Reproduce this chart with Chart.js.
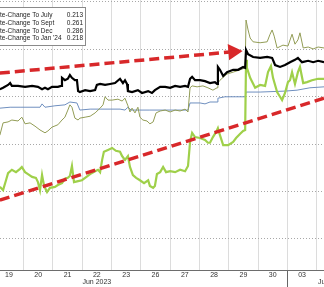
<!DOCTYPE html>
<html>
<head>
<meta charset="utf-8">
<script src="https://cdn.jsdelivr.net/npm/chart.js@4.4.1/dist/chart.umd.min.js"></script>
<style>
  html, body { margin: 0; padding: 0; background: #fff; }
</style>
</head>
<body>
<canvas id="rateChart" width="324" height="287"></canvas>
<script>
// trading days on the axis (Jul 04 holiday skipped)
const dayLabels = ["19", "20", "21", "22", "23", "26", "27", "28", "29", "30", "03", "05"];
const monthLabels = ["", "", "", "Jun 2023", "", "", "", "", "", "", "", "Jul 2023"];

const legendNames = ["Rate-Change To July", "Rate-Change To Sept", "Rate-Change To Dec", "Rate-Change To Jan '24"];
const legendValues = ["0.213", "0.261", "0.286", "0.218"];

// [trading day index (0 = Jun 19), implied change]
const julyPts = [
  [0.19, 27.6], [0.54, 27.8], [0.88, 27.8], [1.22, 27.8], [1.56, 27.8], [1.63, 28.5], [1.73, 27.8],
  [2.07, 28.1], [2.41, 28.3], [2.58, 28.9], [2.82, 28.7], [2.92, 27.2], [3.27, 27.4], [3.61, 27.4],
  [3.95, 27.4], [4.29, 27.4], [4.46, 27.2], [4.56, 27.8], [4.67, 27.2], [5.31, 27.2], [6.00, 27.2],
  [6.61, 27.2], [6.68, 28.7], [7.02, 28.7], [7.19, 28.5], [7.36, 28.9], [7.60, 28.9], [7.63, 29.7],
  [7.87, 30.0], [8.22, 30.0], [8.56, 30.0], [8.59, 31.0], [9.07, 31.0], [9.92, 31.2], [10.33, 31.4],
  [10.77, 31.9], [11.25, 32.1]
];

const septPts = [
  [0.19, 31.6], [0.30, 31.9], [0.47, 32.5], [0.54, 32.9], [0.60, 32.3], [0.81, 32.3], [1.05, 32.1],
  [1.29, 32.3], [1.49, 32.1], [1.63, 31.6], [1.73, 31.9], [1.83, 31.6], [1.97, 32.1], [2.17, 32.1],
  [2.28, 32.3], [2.31, 34.0], [2.41, 33.5], [2.51, 33.8], [2.58, 34.6], [2.65, 34.0], [2.75, 33.5],
  [2.82, 33.5], [2.86, 31.2], [2.92, 31.0], [3.10, 31.4], [3.27, 31.2], [3.44, 31.4], [3.50, 32.5],
  [3.61, 32.7], [3.78, 32.5], [3.95, 32.7], [4.12, 32.9], [4.29, 33.8], [4.39, 32.9], [4.46, 33.5],
  [4.53, 32.7], [4.56, 31.2], [4.70, 31.0], [4.90, 31.4], [5.04, 30.8], [5.25, 31.2], [5.38, 30.8],
  [5.48, 31.4], [5.66, 32.1], [5.83, 32.1], [6.00, 31.9], [6.17, 32.3], [6.34, 32.1], [6.51, 32.3],
  [6.61, 32.1], [6.68, 33.8], [6.75, 34.2], [6.85, 33.5], [7.02, 33.5], [7.19, 33.3], [7.36, 32.9],
  [7.53, 33.1], [7.60, 32.7], [7.63, 36.3], [7.70, 35.7], [7.81, 34.4], [7.94, 35.2], [8.15, 35.7],
  [8.32, 35.7], [8.49, 36.3], [8.56, 36.1], [8.59, 39.9], [8.66, 39.0], [8.83, 38.4], [9.07, 38.2],
  [9.31, 38.4], [9.48, 38.2], [9.58, 36.7], [9.75, 36.3], [9.92, 36.7], [10.09, 37.3], [10.26, 37.8],
  [10.36, 38.2], [10.50, 37.3], [10.71, 37.6], [10.88, 37.3], [11.05, 37.6], [11.25, 37.3]
];

const decPts = [
  [0.19, 21.9], [0.30, 24.5], [0.47, 24.7], [0.60, 25.1], [0.81, 24.9], [0.94, 25.7], [1.05, 24.3],
  [1.22, 24.5], [1.39, 23.8], [1.56, 23.0], [1.73, 22.4], [1.83, 22.8], [1.97, 23.6], [2.17, 24.1],
  [2.31, 25.1], [2.41, 25.7], [2.51, 27.2], [2.58, 28.3], [2.65, 27.8], [2.75, 25.5], [2.86, 25.1],
  [2.92, 25.5], [3.10, 25.7], [3.27, 25.9], [3.44, 26.6], [3.61, 27.6], [3.71, 28.3], [3.78, 30.0],
  [3.88, 29.3], [4.02, 29.3], [4.22, 29.5], [4.36, 29.1], [4.46, 29.7], [4.56, 28.1], [4.63, 26.8],
  [4.70, 27.6], [4.80, 26.6], [4.90, 27.8], [4.97, 25.7], [5.07, 25.1], [5.21, 24.9], [5.31, 24.3],
  [5.42, 24.7], [5.52, 26.6], [5.66, 27.0], [5.83, 27.2], [6.00, 26.8], [6.17, 27.2], [6.34, 27.0],
  [6.51, 27.4], [6.61, 26.8], [6.68, 31.9], [6.75, 32.3], [6.92, 32.1], [7.12, 32.3], [7.29, 31.9],
  [7.46, 31.4], [7.60, 31.9], [7.63, 32.9], [7.70, 33.5], [7.94, 34.8], [8.15, 35.2], [8.39, 35.7],
  [8.56, 36.1], [8.59, 46.2], [8.66, 44.1], [8.73, 42.4], [8.83, 41.6], [9.07, 41.4], [9.31, 41.6],
  [9.41, 43.2], [9.48, 44.1], [9.55, 42.8], [9.65, 40.3], [9.85, 40.9], [10.02, 40.7], [10.16, 43.2],
  [10.26, 41.1], [10.36, 42.0], [10.43, 43.5], [10.54, 40.3], [10.71, 40.5], [10.88, 40.1],
  [11.05, 40.5], [11.25, 40.3]
];

const jan24Pts = [
  [0.19, 11.0], [0.30, 10.3], [0.40, 12.4], [0.47, 13.9], [0.60, 14.6], [0.74, 14.1], [0.88, 14.8],
  [0.94, 15.2], [1.05, 14.1], [1.15, 13.7], [1.29, 13.1], [1.42, 12.9], [1.49, 12.0], [1.56, 10.3],
  [1.63, 13.5], [1.70, 11.2], [1.80, 9.9], [1.90, 10.8], [2.07, 11.0], [2.17, 11.4], [2.31, 11.8],
  [2.41, 12.7], [2.51, 12.9], [2.58, 13.3], [2.65, 15.4], [2.72, 12.0], [2.86, 12.2], [2.99, 12.4],
  [3.10, 12.9], [3.27, 13.7], [3.44, 14.3], [3.54, 14.6], [3.61, 14.1], [3.68, 16.7], [3.74, 18.4],
  [3.88, 18.8], [4.02, 19.2], [4.15, 18.6], [4.29, 18.4], [4.36, 17.5], [4.46, 16.7], [4.56, 17.5],
  [4.63, 15.2], [4.73, 13.5], [4.84, 12.9], [4.97, 12.4], [5.11, 11.8], [5.25, 12.4], [5.31, 11.2],
  [5.42, 10.8], [5.48, 11.2], [5.55, 13.7], [5.66, 14.1], [5.76, 15.2], [5.86, 14.1], [6.00, 14.3],
  [6.17, 14.1], [6.34, 14.6], [6.51, 14.3], [6.61, 15.4], [6.68, 20.5], [6.75, 22.4], [6.85, 21.5],
  [7.02, 21.3], [7.19, 20.9], [7.29, 20.3], [7.36, 20.3], [7.46, 21.5], [7.57, 22.6], [7.63, 23.4],
  [7.70, 21.9], [7.81, 19.8], [7.98, 19.8], [8.15, 20.5], [8.25, 21.3], [8.39, 22.2], [8.49, 22.8],
  [8.56, 23.0], [8.59, 37.8], [8.62, 36.1], [8.73, 34.0], [8.90, 31.9], [9.07, 32.5], [9.24, 32.3],
  [9.34, 35.2], [9.44, 36.5], [9.51, 34.0], [9.65, 31.0], [9.75, 30.0], [9.82, 29.3], [9.92, 30.8],
  [10.02, 33.1], [10.09, 33.5], [10.16, 35.2], [10.26, 32.7], [10.36, 35.2], [10.43, 36.3],
  [10.54, 32.9], [10.67, 33.1], [10.84, 33.5], [11.05, 33.8], [11.25, 33.8]
];

// hand-drawn trend arrows
const upperTrend = [[0.19, 35.0], [8.15, 39.5]];
const lowerTrend = [[0.19, 8.2], [11.25, 29.7]];

const toXY = (pts) => pts.map(([x, y]) => ({ x, y }));

const legendBox = {
  id: "legendBox",
  afterDraw(chart) {
    const ctx = chart.ctx;
    ctx.save();
    ctx.fillStyle = "#fff";
    ctx.fillRect(-2, 7, 88, 39);
    ctx.strokeStyle = "#8a8a8a";
    ctx.lineWidth = 1;
    ctx.strokeRect(-1.5, 7.5, 87, 38);
    ctx.font = "6.5px 'Liberation Sans'";
    ctx.fillStyle = "#222";
    ctx.textBaseline = "middle";
    const cut = ctx.measureText("Ra").width;
    legendNames.forEach((name, i) => {
      const y = 15 + i * 7.9;
      ctx.textAlign = "left";
      ctx.fillText(name, -cut, y);
      ctx.textAlign = "right";
      ctx.fillText(legendValues[i], 83, y);
    });
    ctx.restore();
  }
};

const red = "#d8282a";

new Chart(document.getElementById("rateChart"), {
  type: "line",
  data: {
    datasets: [
      {
        data: toXY(upperTrend), borderColor: red, borderWidth: 3.5, borderDash: [10, 5],
        pointRadius: [0, 6], pointStyle: "triangle", pointRotation: [0, 85],
        pointBackgroundColor: red, pointBorderColor: red
      },
      { data: toXY(lowerTrend), borderColor: red, borderWidth: 3.5, borderDash: [10, 5], pointRadius: 0 },
      { data: toXY(septPts), borderColor: "#000", borderWidth: 2.2, pointRadius: 0 },
      { data: toXY(jan24Pts), borderColor: "#9fd04a", borderWidth: 2.2, pointRadius: 0 },
      { data: toXY(decPts), borderColor: "#929c55", borderWidth: 1, pointRadius: 0 },
      { data: toXY(julyPts), borderColor: "#6f8fbf", borderWidth: 1, pointRadius: 0 }
    ]
  },
  options: {
    responsive: false,
    animation: false,
    events: [],
    layout: { padding: 0, autoPadding: false },
    plugins: { legend: { display: false }, tooltip: { enabled: false } },
    elements: { line: { tension: 0 } },
    scales: {
      x: {
        type: "linear", position: "bottom", weight: 0, min: 0.195, max: 11.25,
        ticks: { display: false, stepSize: 1, includeBounds: false },
        grid: {
          color: "#dcdcdc", drawTicks: true, tickLength: 17,
          tickColor: (c) => (c.tick && c.tick.value === 10 ? "#666" : "rgba(0,0,0,0)")
        },
        border: { display: true, color: "#6d6d6d", width: 1 },
        afterFit: (s) => { s.height = 0; s.paddingLeft = 0; s.paddingRight = 0; }
      },
      days: {
        type: "linear", position: "bottom", weight: 1, min: 0.195, max: 11.25,
        grid: { display: false, drawTicks: false },
        border: { display: false },
        ticks: {
          autoSkip: false, maxRotation: 0, padding: 2, color: "#333",
          font: { size: 7, family: "'Liberation Sans'", lineHeight: 1 },
          callback: (v, i) => (monthLabels[i] ? [dayLabels[i], monthLabels[i]] : dayLabels[i])
        },
        afterBuildTicks: (s) => { s.ticks = dayLabels.map((_, i) => ({ value: i + 0.5 })); },
        afterFit: (s) => { s.height = 17; s.paddingLeft = 0; s.paddingRight = 0; }
      },
      y: {
        min: -6.54, max: 50.42,
        ticks: { display: false, stepSize: 10, includeBounds: false },
        grid: { color: "#a8a8a8", drawTicks: false },
        border: { display: false, dash: [1, 2] },
        afterFit: (s) => { s.width = 0; }
      }
    }
  },
  plugins: [legendBox]
});
</script>
</body>
</html>
